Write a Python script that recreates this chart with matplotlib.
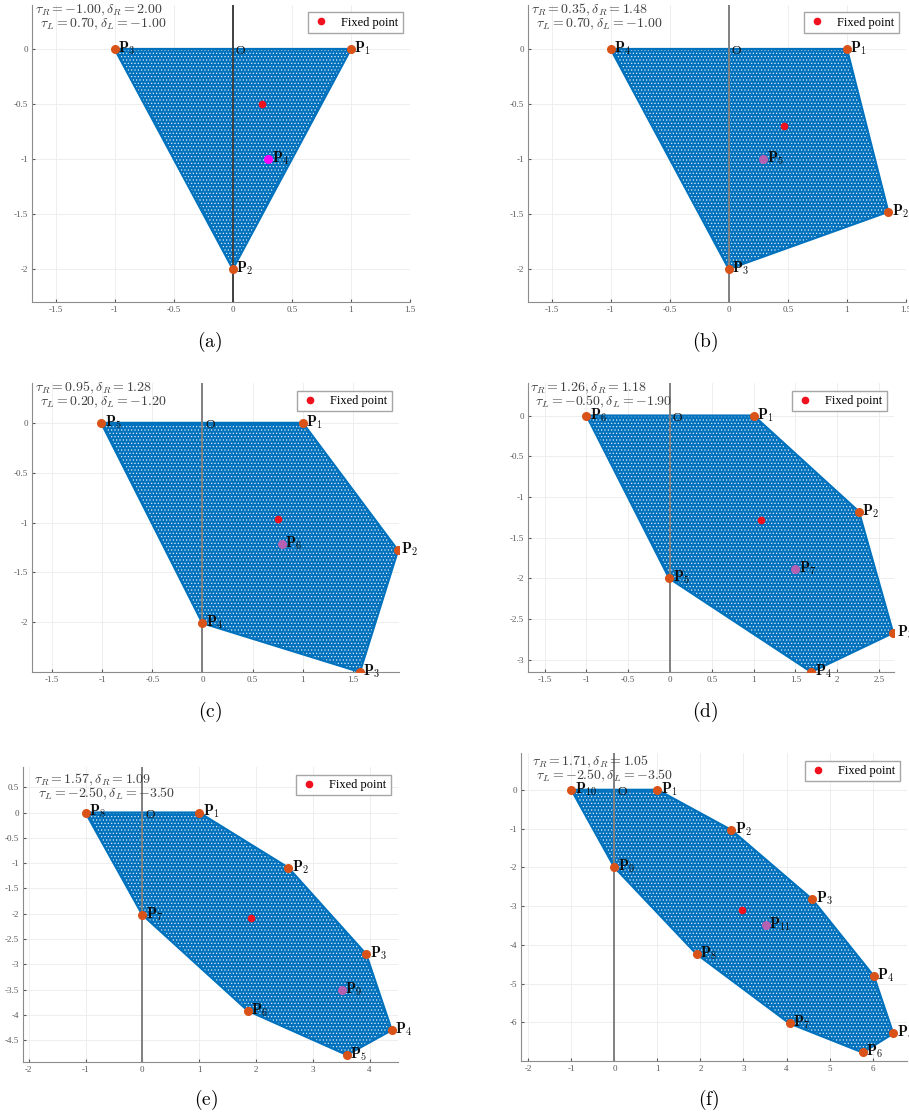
import numpy as np
import matplotlib
matplotlib.use("Agg")
import matplotlib.pyplot as plt
from matplotlib.patches import Polygon
from matplotlib.ticker import FuncFormatter

plt.rcParams["font.family"] = ["Liberation Serif", "DejaVu Serif"]
plt.rcParams["mathtext.fontset"] = "cm"
plt.rcParams["axes.unicode_minus"] = False
plt.rcParams["hatch.linewidth"] = 0.5

# パラメータ (tau_R, delta_R, tau_L, delta_L)
params_a = (-1.00, 2.00, 0.70, -1.00)
params_b = (0.35, 1.48, 0.70, -1.00)
params_c = (0.95, 1.28, 0.20, -1.20)
params_d = (1.26, 1.18, -0.50, -1.90)
params_e = (1.57, 1.09, -2.50, -3.50)
params_f = (1.71, 1.05, -2.50, -3.50)

# 頂点 P1..Pn (最後の点は内部の点)
px_a = [1.00, 0.00, -1.00, 0.30]
py_a = [0.00, -2.00, 0.00, -1.00]
px_b = [1.00, 1.35, 0.00, -1.00, 0.29]
py_b = [0.00, -1.48, -2.00, 0.00, -1.00]
px_c = [1.00, 1.95, 1.57, 0.00, -1.01, 0.79]
py_c = [0.00, -1.28, -2.50, -2.01, 0.00, -1.22]
px_d = [1.00, 2.26, 2.67, 1.69, -0.01, -1.00, 1.50]
py_d = [0.00, -1.18, -2.67, -3.15, -2.00, 0.00, -1.89]
px_e = [1.00, 2.57, 3.94, 4.39, 3.60, 1.86, 0.00, -1.00, 3.51]
py_e = [0.00, -1.09, -2.80, -4.30, -4.79, -3.92, -2.02, 0.00, -3.50]
px_f = [1.00, 2.72, 4.60, 6.03, 6.48, 5.77, 4.07, 1.91, 0.00, -1.00, 3.52]
py_f = [0.00, -1.04, -2.83, -4.81, -6.29, -6.78, -6.03, -4.24, -2.00, 0.00, -3.50]

# 不動点
fixed_a = (0.25, -0.50)
fixed_b = (0.47, -0.70)
fixed_c = (0.75, -0.96)
fixed_d = (1.09, -1.28)
fixed_e = (1.92, -2.08)
fixed_f = (2.96, -3.10)

BLUE = "#0072BD"
ORANGE = "#D95319"

panels = [
    # (letter, params, px, py, fixed, rect(px), xlim, ylim, xticks, yticks, text offset(px), label pos, last color)
    ("a", params_a, px_a, py_a, fixed_a, (32, 5, 410, 302), (-1.7, 1.5), (-2.3, 0.4),
     np.arange(-1.5, 1.51, 0.5), np.arange(-2, 0.01, 0.5), (3, 5), (210, 342), "#FF00FF"),
    ("b", params_b, px_b, py_b, fixed_b, (528, 5, 906, 302), (-1.7, 1.5), (-2.3, 0.4),
     np.arange(-1.5, 1.51, 0.5), np.arange(-2, 0.01, 0.5), (3, 5), (705, 342), "#B560B0"),
    ("c", params_c, px_c, py_c, fixed_c, (32, 383, 399, 672), (-1.7, 1.96), (-2.5, 0.4),
     np.arange(-1.5, 1.51, 0.5), np.arange(-2, 0.01, 0.5), (3, 5), (210, 712), "#B560B0"),
    ("d", params_d, px_d, py_d, fixed_d, (528, 383, 894, 672), (-1.7, 2.68), (-3.15, 0.4),
     np.arange(-1.5, 2.51, 0.5), np.arange(-3, 0.01, 0.5), (2.5, 5), (705, 712), "#B560B0"),
    ("e", params_e, px_e, py_e, fixed_e, (23, 767, 398, 1062), (-2.1, 4.5), (-4.93, 0.9),
     np.arange(-2, 4.01, 1), np.arange(-4.5, 0.51, 0.5), (11, 12.5), (206, 1100), "#B560B0"),
    ("f", params_f, px_f, py_f, fixed_f, (521, 753, 907, 1061), (-2.17, 6.8), (-7.0, 0.95),
     np.arange(-2, 6.01, 1), np.arange(-6, 0.01, 1), (10.5, 8.5), (709, 1100), "#B560B0"),
]

W, H = 909, 1120
PT = 0.72  # px -> pt (dpi 100)
fig = plt.figure(figsize=(W / 100, H / 100), dpi=100)

fmt = FuncFormatter(lambda v, pos: "%g" % round(v, 2))

for letter, prm, xs, ys, fp, rect, xl, yl, xt, yt, toff, lpos, lastc in panels:
    l, t, r, b = rect
    ax = fig.add_axes([l / W, 1 - b / H, (r - l) / W, (b - t) / H])

    hull = np.column_stack([xs[:-1], ys[:-1]])
    ax.add_patch(Polygon(hull, closed=True, facecolor=BLUE, edgecolor="#dfeaf5",
                         hatch=".....", lw=0, zorder=1))
    ax.plot(list(xs[:-1]) + [xs[0]], list(ys[:-1]) + [ys[0]], color=BLUE, lw=1.6, zorder=2)

    ax.axvline(0, color="0.25" if letter == "a" else "0.5", lw=1.4, zorder=3)

    ax.plot(xs[:-1], ys[:-1], "o", color=ORANGE, ms=5.5, zorder=4)
    ax.plot(xs[-1], ys[-1], "o", color=lastc, ms=5.5, zorder=4)
    ax.plot(fp[0], fp[1], "o", color="#F0101E", ms=4.5, zorder=5, label="Fixed point")

    for i, (x, y) in enumerate(zip(xs, ys), start=1):
        ax.annotate(r"$\mathbf{P}_{\mathbf{%d}}$" % i, (x, y), xytext=(2.5, -2.5),
                    textcoords="offset points", ha="left", va="baseline", fontsize=10.5,
                    color="0.05", zorder=6)

    ax.annotate("O", (0, 0), xytext=(2, -1.5), textcoords="offset points",
                ha="left", va="center", fontsize=9.5, color="0.1", zorder=6)

    tr, dr, tl, dl = prm
    line1 = r"$\tau_R = %.2f, \delta_R = %.2f$" % (tr, dr)
    line2 = r"$\tau_L = %.2f, \delta_L = %.2f$" % (tl, dl)
    ax.annotate(line1, (0, 1), xycoords="axes fraction",
                xytext=(toff[0] * PT, -toff[1] * PT), textcoords="offset points",
                ha="left", va="center", fontsize=10, color="0.25", zorder=7)
    ax.annotate(line2, (0, 1), xycoords="axes fraction",
                xytext=((toff[0] + 4.5) * PT, -(toff[1] + 14.3) * PT), textcoords="offset points",
                ha="left", va="center", fontsize=10, color="0.25", zorder=7)

    ax.legend(loc="upper right", fontsize=9, fancybox=False, edgecolor="0.65",
              framealpha=1, handlelength=1.4, borderpad=0.35, borderaxespad=0.6,
              handletextpad=0.9)

    ax.set_xlim(xl)
    ax.set_ylim(yl)
    ax.set_xticks(xt)
    ax.set_yticks(yt)
    ax.xaxis.set_major_formatter(fmt)
    ax.yaxis.set_major_formatter(fmt)
    ax.grid(True, color="0.92", lw=0.6)
    ax.set_axisbelow(True)
    for s in ["top", "right"]:
        ax.spines[s].set_visible(False)
    for s in ["left", "bottom"]:
        ax.spines[s].set_color("0.55")
        ax.spines[s].set_linewidth(0.8)
    ax.tick_params(labelsize=6.5, colors="0.35", direction="in", length=2, pad=3)

    fig.text(lpos[0] / W, 1 - lpos[1] / H, r"$\mathrm{(%s)}$" % letter,
             ha="center", va="center", fontsize=14)

fig.savefig("out.png", dpi=100)
